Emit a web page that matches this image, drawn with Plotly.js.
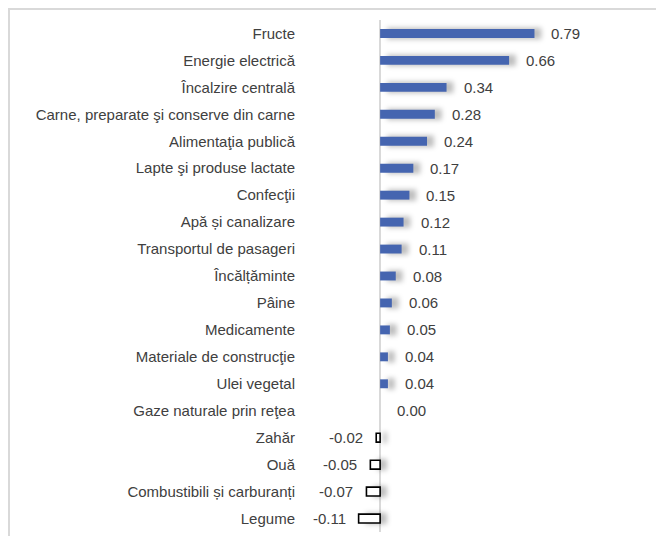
<!DOCTYPE html>
<html><head><meta charset="utf-8">
<script src="https://cdn.plot.ly/plotly-3.0.1.min.js"></script>
<style>
html,body{margin:0;padding:0;background:#fff;overflow:hidden;}
#frame{position:absolute;left:8px;top:8px;width:720px;height:620px;border:2px solid #d9d9d9;box-sizing:border-box;}
#chart{position:absolute;left:0;top:0;width:656px;height:536px;}
</style></head>
<body>
<div id="frame"></div>
<div id="chart"></div>
<script>
const categories = ["Fructe","Energie electrică","Încalzire centrală","Carne, preparate şi conserve din carne","Alimentaţia publică","Lapte şi produse lactate","Confecţii","Apă și canalizare","Transportul de pasageri","Încălțăminte","Pâine","Medicamente","Materiale de construcţie","Ulei vegetal","Gaze naturale prin reţea","Zahăr","Ouă","Combustibili și carburanți","Legume"];
const values = [0.79,0.66,0.34,0.28,0.24,0.17,0.15,0.12,0.11,0.08,0.06,0.05,0.04,0.04,0.00,-0.02,-0.05,-0.07,-0.11];
const labels = values.map(v => v.toFixed(2));

const shadowShift = 0.035;
const shadow = {
  type:'bar', orientation:'h', y:categories,
  x: values.map(v => Math.abs(v)),
  base: values.map(v => Math.min(v,0) + shadowShift),
  width:0.42, marker:{color: values.map(v => v===0 ? 'rgba(0,0,0,0)' : 'rgba(0,0,0,0.25)'), line:{width:0}},
  hoverinfo:'skip', showlegend:false
};
const bars = {
  type:'bar', orientation:'h', y:categories, x:values,
  width:0.33,
  marker:{color: values.map(v => v<0 ? '#ffffff' : '#4565b0'),
          line:{color: values.map(v => v<0 ? '#000000' : '#4565b0'), width: values.map(v => v<0 ? 1.6 : 0)}},
  hoverinfo:'skip', showlegend:false
};
const annotations = values.map((v,i) => ({
  x: v, y: categories[i], xref:'x', yref:'y', text: labels[i], showarrow:false,
  xanchor: v<0 ? 'right' : 'left', xshift: v<0 ? -11 : 15,
  font:{family:'Liberation Sans, Arial, sans-serif', size:15, color:'#404040'}
}));

const layout = {
  width:656, height:536,
  margin:{l:300, r:16, t:19.5, b:3.5, pad:0},
  paper_bgcolor:'rgba(0,0,0,0)', plot_bgcolor:'rgba(0,0,0,0)',
  barmode:'overlay',
  xaxis:{range:[-0.41,1.33], showgrid:false, showticklabels:false, ticks:'', zeroline:true, zerolinecolor:'#d9d9d9', zerolinewidth:1.5, showline:false, fixedrange:true},
  yaxis:{type:'category', autorange:'reversed', showgrid:false, ticks:'', showline:false, zeroline:false,
         tickfont:{family:'Liberation Sans, Arial, sans-serif', size:15, color:'#404040'}, ticklabelstandoff:4},
  annotations: annotations,
  showlegend:false
};
Plotly.newPlot('chart',[shadow,bars],layout,{staticPlot:true,displayModeBar:false}).then(()=>{
  const tr = document.querySelectorAll('.barlayer .trace');
  if (tr.length) tr[0].style.filter = 'blur(2.5px)';
});
</script>
</body></html>
